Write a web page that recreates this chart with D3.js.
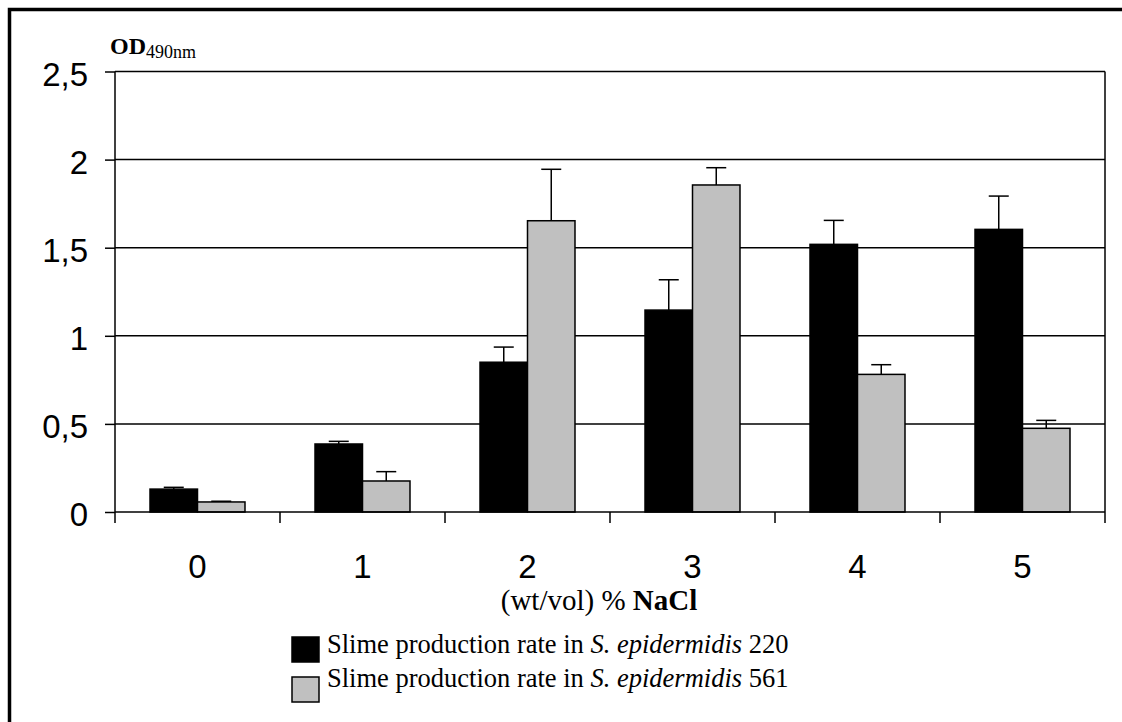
<!DOCTYPE html>
<html>
<head>
<meta charset="utf-8">
<script src="https://cdn.jsdelivr.net/npm/d3@7"></script>
<style>
  html, body { margin: 0; padding: 0; background: #fff; }
  svg { display: block; }
</style>
</head>
<body>
<div id="chart"></div>
<script>
// values
const categories = ['0', '1', '2', '3', '4', '5'];
const series = ['220', '561'];
const valuesS220 = [0.13, 0.386, 0.85, 1.146, 1.519, 1.604];
const errorsS220 = [0.01, 0.015, 0.086, 0.172, 0.136, 0.189];
const valuesS561 = [0.057, 0.176, 1.653, 1.856, 0.781, 0.475];
const errorsS561 = [0.004, 0.053, 0.292, 0.098, 0.055, 0.045];
const yTicks = [0, 0.5, 1, 1.5, 2, 2.5];
const legendLabels = ['Slime production rate in ', 'Slime production rate in '];

const W = 1122, H = 722;
const margin = {top: 71.5, right: 17, bottom: 210, left: 115};
const innerW = W - margin.left - margin.right;
const innerH = H - margin.top - margin.bottom;

const fills = {'220': '#000000', '561': '#c0c0c0'};

const rows = categories.map((c, i) => ({
	cat: c,
	bars: [
		{key: '220', value: valuesS220[i], err: errorsS220[i]},
		{key: '561', value: valuesS561[i], err: errorsS561[i]}
	]
}));

const svg = d3.select('#chart').append('svg')
	.attr('width', W).attr('height', H);

// outer frame
svg.append('rect')
	.attr('x', 9.5).attr('y', 9.5)
	.attr('width', W + 20).attr('height', H + 20)
	.attr('fill', 'none').attr('stroke', '#000').attr('stroke-width', 3.5);

const g = svg.append('g').attr('transform', `translate(${margin.left},${margin.top})`);

const x = d3.scaleBand().domain(categories).range([0, innerW]).padding(0);
const xs = d3.scaleBand().domain(series).range([0, x.bandwidth()])
	.paddingInner(0).paddingOuter(0.737);
const y = d3.scaleLinear().domain([0, 2.5]).range([innerH, 0]);

// gridlines
g.append('g').selectAll('line').data(yTicks.filter(d => d > 0)).join('line')
	.attr('x1', 0).attr('x2', innerW)
	.attr('y1', d => y(d)).attr('y2', d => y(d))
	.attr('stroke', '#000').attr('stroke-width', 1.5);

// right border of plot area
g.append('line')
	.attr('x1', innerW).attr('x2', innerW)
	.attr('y1', 0).attr('y2', innerH)
	.attr('stroke', '#000').attr('stroke-width', 1.5);

// bars
const groups = g.append('g').selectAll('g').data(rows).join('g')
	.attr('transform', d => `translate(${x(d.cat)},0)`);

groups.selectAll('rect').data(d => d.bars).join('rect')
	.attr('x', d => xs(d.key))
	.attr('y', d => y(d.value))
	.attr('width', xs.bandwidth())
	.attr('height', d => innerH - y(d.value))
	.attr('fill', d => fills[d.key])
	.attr('stroke', '#000').attr('stroke-width', 1.5);

// error bars (upper only)
const capW = 20;
const errG = groups.selectAll('g.err').data(d => d.bars).join('g').attr('class', 'err')
	.attr('transform', d => `translate(${xs(d.key) + xs.bandwidth() / 2},0)`);
errG.append('line')
	.attr('x1', 0).attr('x2', 0)
	.attr('y1', d => y(d.value)).attr('y2', d => y(d.value + d.err))
	.attr('stroke', '#000').attr('stroke-width', 1.5);
errG.append('line')
	.attr('x1', -capW / 2).attr('x2', capW / 2)
	.attr('y1', d => y(d.value + d.err)).attr('y2', d => y(d.value + d.err))
	.attr('stroke', '#000').attr('stroke-width', 1.5);

// y axis
const fmt = d => String(d).replace('.', ',');
const yAxis = g.append('g')
	.call(d3.axisLeft(y).tickValues(yTicks).tickFormat(fmt).tickSize(10).tickPadding(17));
yAxis.select('.domain').attr('stroke-width', 1.5).attr('d', `M0,0V${innerH}`);
yAxis.selectAll('.tick line').attr('stroke-width', 1.5);
yAxis.selectAll('.tick text')
	.attr('dy', '0.42em')
	.style('font-family', '"Liberation Sans", Arial, sans-serif')
	.style('font-size', '33px')
	.attr('fill', '#000');

// x axis
const xAxis = g.append('g').attr('transform', `translate(0,${innerH})`)
	.call(d3.axisBottom(x).tickSize(0).tickPadding(66));
xAxis.select('.domain').attr('stroke-width', 1.5).attr('d', `M0,0H${innerW}`);
xAxis.selectAll('.tick text')
	.style('font-family', '"Liberation Sans", Arial, sans-serif')
	.style('font-size', '33px')
	.attr('dy', 0)
	.attr('fill', '#000');
const boundaries = categories.map(c => x(c)).concat([innerW]);
xAxis.append('g').selectAll('line').data(boundaries).join('line')
	.attr('x1', d => d).attr('x2', d => d)
	.attr('y1', 0).attr('y2', 11)
	.attr('stroke', '#000').attr('stroke-width', 1.5);

// x axis title
const xt = svg.append('text')
	.attr('x', 599).attr('y', 610)
	.attr('text-anchor', 'middle')
	.style('font-family', '"Liberation Serif", "Times New Roman", serif')
	.style('font-size', '29px');
xt.append('tspan').text('(wt/vol) % ');
xt.append('tspan').style('font-weight', 'bold').text('NaCl');

// y axis title
const yt = svg.append('text')
	.attr('x', 110).attr('y', 54)
	.style('font-family', '"Liberation Serif", "Times New Roman", serif');
yt.append('tspan').style('font-weight', 'bold').style('font-size', '24px').text('OD');
yt.append('tspan').style('font-size', '18px').attr('dy', 4).text('490nm');

// legend
const legend = svg.append('g').attr('transform', 'translate(292,637)');
const li = legend.selectAll('g').data(series).join('g')
	.attr('transform', (d, i) => `translate(0,${i * 40})`);
li.append('rect')
	.attr('x', 0).attr('y', 0).attr('width', 27).attr('height', 25)
	.attr('fill', d => fills[d]).attr('stroke', '#000').attr('stroke-width', 1.5);
const lt = li.append('text')
	.attr('x', 35).attr('y', (d, i) => 16 - i * 6)
	.style('font-family', '"Liberation Serif", "Times New Roman", serif')
	.style('font-size', '26.5px');
lt.append('tspan').text((d, i) => legendLabels[i]);
lt.append('tspan').style('font-style', 'italic').text('S. epidermidis');
lt.append('tspan').text(d => ' ' + d);
</script>
</body>
</html>
